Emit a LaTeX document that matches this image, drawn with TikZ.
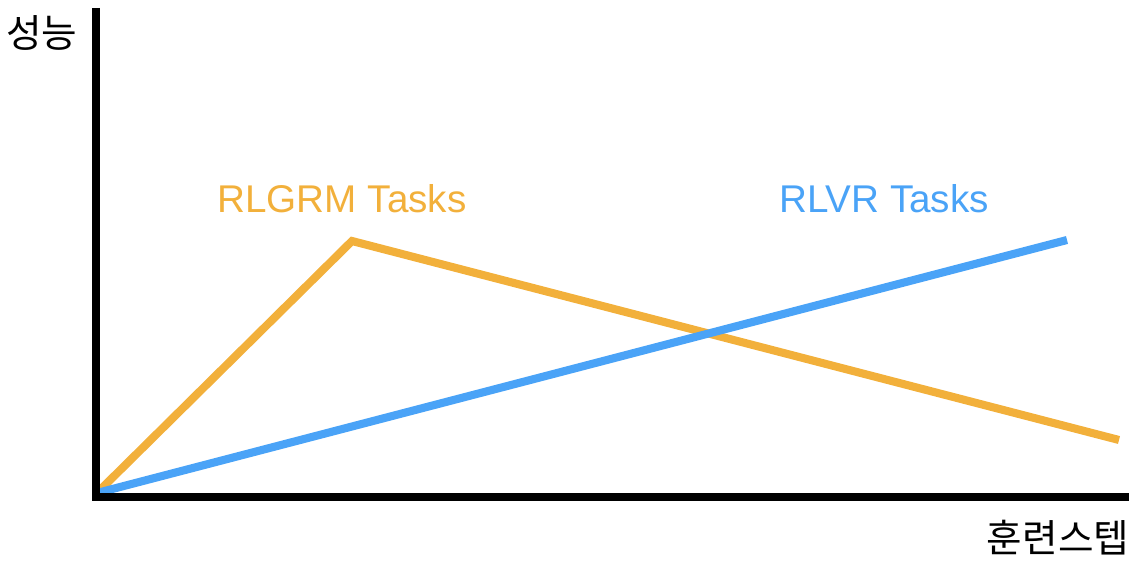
\documentclass[tikz,border=0pt]{standalone}
\usepackage{fontspec}
\setmainfont{Liberation Sans}
\newfontfamily\krfont{Noto Sans CJK KR}
\usetikzlibrary{positioning, calc}
\definecolor{rlgrmorange}{RGB}{242, 176, 59}
\definecolor{rlvrblue}{RGB}{74, 163, 247}
\tikzstyle{axisline} = [line width=4.6pt, black]
\tikzstyle{rlgrmline} = [line width=4.6pt, rlgrmorange]
\tikzstyle{rlvrline} = [line width=4.6pt, rlvrblue]
\tikzstyle{tasklabel} = [inner sep=0pt, anchor=base, font=\fontsize{22}{26}\selectfont]
\tikzstyle{axislabel} = [inner sep=0pt, font=\krfont\fontsize{22}{26}\selectfont]

\begin{document}
\begin{tikzpicture}[x=0.02cm, y=-0.02cm]
\useasboundingbox (0,0) rectangle (1142,574);
% Key points
\coordinate (origin) at (97,493);
\coordinate (ytop) at (96,8);
\coordinate (xcorner) at (92,497);
\coordinate (xend) at (1129,497);
\coordinate (peak) at (352,241);
\coordinate (rlgrmend) at (1119,440);
\coordinate (rlvrend) at (1067,240);

% Curves
\draw[rlgrmline, line join=miter] (origin) -- (peak) -- (rlgrmend);
\draw[rlvrline] (origin) -- (rlvrend);

% Axes
\draw[axisline] (ytop) -- (96,497);
\draw[axisline] (xcorner) -- (xend);

% Labels
\node[tasklabel, rlgrmorange] (rlgrmlabel) at (342,213) {RLGRM Tasks};
\node[tasklabel, rlvrblue] (rlvrlabel) at (884,213) {RLVR Tasks};
\node[axislabel] (ylabel) at (42,33) {성능};
\node[axislabel] (xlabel) at (1058,538) {훈련스텝};
\end{tikzpicture}
\end{document}
